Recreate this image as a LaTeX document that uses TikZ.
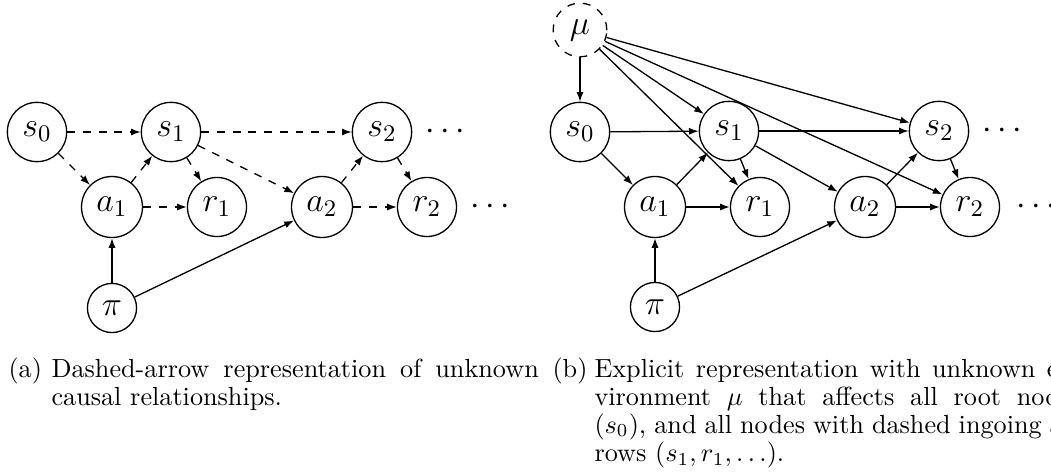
\RequirePackage{fix-cm}
\documentclass[tikz,border=0pt]{standalone}
\usetikzlibrary{arrows.meta}
\begin{document}
\begin{tikzpicture}[x=0.3817pt,y=-0.3817pt,
  var/.style={circle,draw,line width=0.5pt,inner sep=3.3pt,font=\fontsize{13}{15}\selectfont},
  hidden/.style={var,dashed},
  more/.style={inner sep=0pt,font=\fontsize{13}{15}\selectfont},
  link/.style={-{Latex[length=3.7pt,width=2.7pt]},line width=0.5pt},
  unk/.style={link,dashed},
  caplabel/.style={font=\fontsize{10}{10.7}\selectfont,inner sep=0pt,anchor=base west},
  captext/.style={caplabel,text width=186pt,align=justify},
]
\path[use as bounding box,clip] (0,0) rectangle (1051,475);

% ---- (a) unknown causal links drawn dashed ----
\node[var] (Ls0) at (37,132) {$s_0$};
\node[var] (Ls1) at (171,132) {$s_1$};
\node[var] (Ls2) at (382,132) {$s_2$};
\node[var] (La1) at (112,207) {$a_1$};
\node[var] (Lr1) at (217,207) {$r_1$};
\node[var] (La2) at (322,207) {$a_2$};
\node[var] (Lr2) at (427,207) {$r_2$};
\node[var] (Lpi) at (112,308) {$\pi$};
\node[more] (Ld1) at (445,132) {$\cdots$};
\node[more] (Ld2) at (490,207) {$\cdots$};

\draw[unk] (Ls0) -- (Ls1);
\draw[unk] (Ls0) -- (La1);
\draw[unk] (La1) -- (Ls1);
\draw[unk] (Ls1) -- (Lr1);
\draw[unk] (La1) -- (Lr1);
\draw[unk] (Ls1) -- (Ls2);
\draw[unk] (Ls1) -- (La2);
\draw[unk] (La2) -- (Ls2);
\draw[unk] (Ls2) -- (Lr2);
\draw[unk] (La2) -- (Lr2);
\draw[link] (Lpi) -- (La1);
\draw[link] (Lpi) -- (La2);

% ---- (b) explicit environment node ----
\node[hidden] (Rmu) at (580,30) {$\mu$};
\node[var] (Rs0) at (580,132) {$s_0$};
\node[var] (Rs1) at (729,131) {$s_1$};
\node[var] (Rs2) at (939,131) {$s_2$};
\node[var] (Ra1) at (655,207) {$a_1$};
\node[var] (Rr1) at (760,207) {$r_1$};
\node[var] (Ra2) at (865,207) {$a_2$};
\node[var] (Rr2) at (970,207) {$r_2$};
\node[var] (Rpi) at (655,307) {$\pi$};
\node[more] (Rd1) at (1002,131) {$\cdots$};
\node[more] (Rd2) at (1036,207) {$\cdots$};

\draw[link] (Rmu) -- (Rs0);
\draw[link] (Rmu) -- (Rs1);
\draw[link] (Rmu) -- (Rr1);
\draw[link] (Rmu) -- (Rs2);
\draw[link] (Rmu) -- (Rr2);
\draw[link] (Rs0) -- (Rs1);
\draw[link] (Rs0) -- (Ra1);
\draw[link] (Ra1) -- (Rs1);
\draw[link] (Rs1) -- (Rr1);
\draw[link] (Ra1) -- (Rr1);
\draw[link] (Rs1) -- (Rs2);
\draw[link] (Rs1) -- (Ra2);
\draw[link] (Ra2) -- (Rs2);
\draw[link] (Rs2) -- (Rr2);
\draw[link] (Ra2) -- (Rr2);
\draw[link] (Rpi) -- (Ra1);
\draw[link] (Rpi) -- (Ra2);

% ---- captions ----
\node[caplabel] (capa) at (8,377) {(a)};
\node[captext] (texta) at (51,377) {Dashed-arrow representation of unknown\linebreak causal relationships.};
\node[caplabel] (capb) at (552,377) {(b)};
\node[captext] (textb) at (594,377) {Explicit representation with unknown en-\linebreak vironment $\mu$ that affects all root nodes\linebreak ($s_0$), and all nodes with dashed ingoing ar-\linebreak rows ($s_1, r_1, \ldots$).};
\end{tikzpicture}
\end{document}
